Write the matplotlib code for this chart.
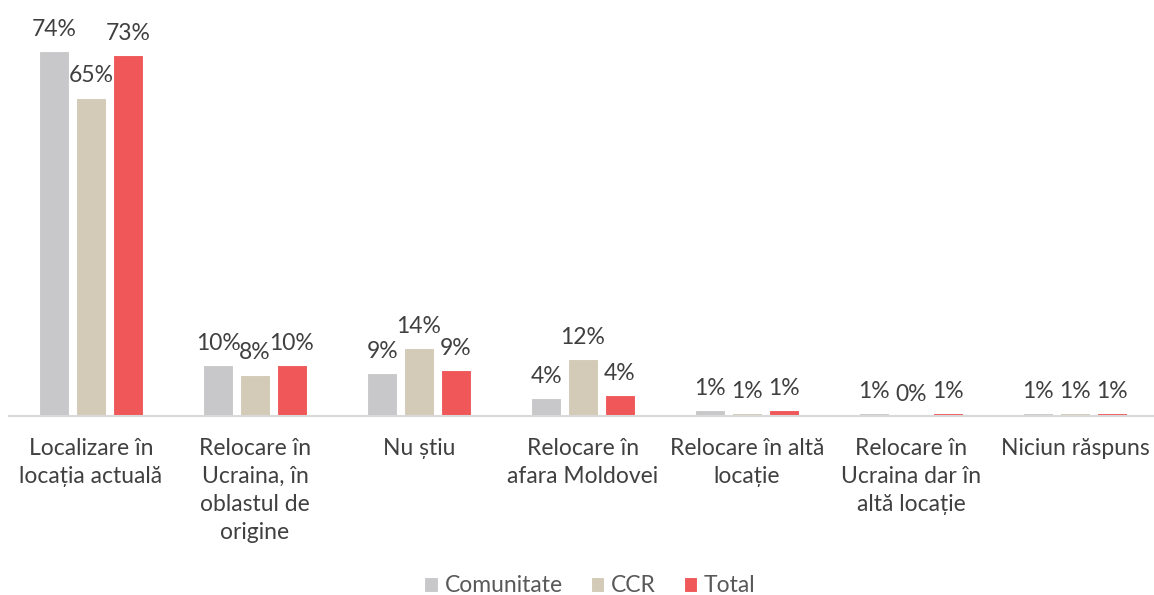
import matplotlib.pyplot as plt
import numpy as np

plt.rcParams['font.family'] = ['Lato', 'DejaVu Sans']

categories = ["Localizare în\nlocația actuală", "Relocare în\nUcraina, în\noblastul de\norigine",
              "Nu știu", "Relocare în\nafara Moldovei", "Relocare în altă\nlocație",
              "Relocare în\nUcraina dar în\naltă locație", "Niciun răspuns"]
series = ["Comunitate", "CCR", "Total"]
comunitate = [74.0, 10.4, 8.8, 3.6, 1.2, 0.6, 0.51]
ccr = [64.6, 8.4, 13.7, 11.6, 0.6, 0.0, 0.6]
total = [73.3, 10.4, 9.3, 4.2, 1.2, 0.6, 0.51]
colors = ["#C8C8CA", "#D3CAB7", "#EF5759"]

fig = plt.figure(figsize=(11.54, 5.95), dpi=100)
ax = fig.add_axes([9/1154, 1-416/595, 1148/1154, 416/595])

x = np.arange(len(categories))
step = 0.225
width = 0.18
for i, (vals, c, name) in enumerate(zip([comunitate, ccr, total], colors, series)):
    pos = x + (i-1)*step
    ax.bar(pos, vals, width, color=c, edgecolor='white', linewidth=0.8, label=name)
    for p, v in zip(pos, vals):
        ax.annotate(f"{round(v):.0f}%", (p, v), xytext=(0, 8), textcoords='offset points',
                    ha='center', va='bottom', fontsize=16.5, color='#404040')

ax.set_xlim(-0.5, len(categories)-0.5)
ax.set_ylim(0, 416/4.93)
ax.set_xticks(x)
ax.set_xticklabels(categories, fontsize=16.5, color='#404040', linespacing=1.4)
ax.tick_params(axis='x', length=0, pad=16)
ax.set_yticks([])
for s in ['top', 'right', 'left']:
    ax.spines[s].set_visible(False)
ax.spines['bottom'].set_color('#D9D9D9')
ax.spines['bottom'].set_linewidth(1.5)

fig.legend(loc='center', bbox_to_anchor=(590/1154, 1-586/595), ncol=3, frameon=False,
           labelcolor='#595959', handlelength=0.6, handleheight=0.6,
           handletextpad=0.3, columnspacing=1.2, prop={'size': 16.5})

fig.savefig('out.png', dpi=100)
